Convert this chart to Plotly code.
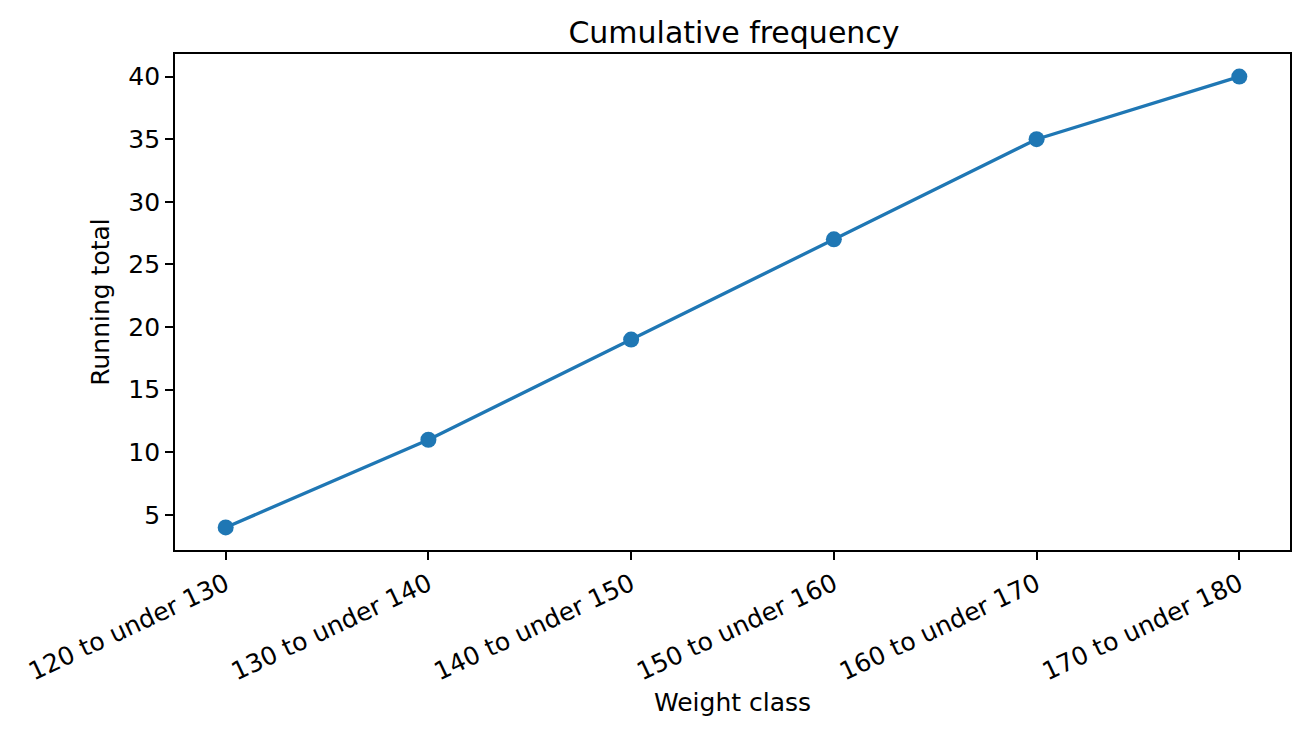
import plotly.graph_objects as go

categories = ["120 to under 130", "130 to under 140", "140 to under 150",
              "150 to under 160", "160 to under 170", "170 to under 180"]
running_total = [4, 11, 19, 27, 35, 40]
y_ticks = [5, 10, 15, 20, 25, 30, 35, 40]

fig = go.Figure()
fig.add_trace(go.Scatter(
    x=list(range(len(categories))), y=running_total,
    mode="lines+markers",
    line=dict(color="#1f77b4", width=3.3),
    marker=dict(color="#1f77b4", size=16),
    showlegend=False,
))

font = "DejaVu Sans, sans-serif"
fig.update_layout(
    width=1310, height=733,
    margin=dict(l=167, r=28, t=46, b=191),
    plot_bgcolor="white", paper_bgcolor="white",
    font=dict(family=font, size=25, color="black"),
    title=dict(text="Cumulative frequency", x=(734 - 8) / 1310, xanchor="center",
               y=1 - 24 / 733, yanchor="middle", font=dict(size=30)),
)
fig.update_xaxes(
    range=[-0.25, 5.25],
    tickmode="array", tickvals=list(range(len(categories))), ticktext=categories,
    tickangle=-25, tickfont=dict(size=25),
    showgrid=False, zeroline=False,
    showline=True, linecolor="black", linewidth=1.7, mirror=True,
    ticks="outside", ticklen=8, tickwidth=1.7, tickcolor="black",
    title=dict(text="Weight class", standoff=8, font=dict(size=25)),
)
fig.update_yaxes(
    range=[2.2, 41.8],
    tickmode="array", tickvals=y_ticks, tickfont=dict(size=25),
    showgrid=False, zeroline=False,
    showline=True, linecolor="black", linewidth=1.7, mirror=True,
    ticks="outside", ticklen=8, tickwidth=1.7, tickcolor="black",
    title=dict(text="Running total", standoff=12, font=dict(size=25)),
)
fig.write_html("out.html")
